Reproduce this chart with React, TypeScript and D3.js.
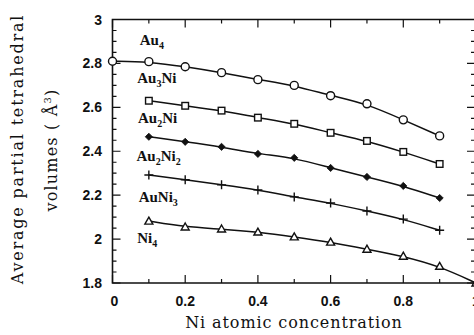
import React from 'react';
import * as d3 from 'd3';

// Ni atomic concentration at each computed point
const conc = [0, 0.1, 0.2, 0.3, 0.4, 0.5, 0.6, 0.7, 0.8, 0.9, 1.0];

// average partial tetrahedral volumes (Å^3), null = no point
const au4 = [2.81, 2.808, 2.785, 2.758, 2.726, 2.7, 2.653, 2.616, 2.543, 2.47, null];
const au3ni = [null, 2.63, 2.607, 2.585, 2.553, 2.525, 2.484, 2.447, 2.397, 2.342, null];
const au2ni = [null, 2.466, 2.443, 2.42, 2.388, 2.37, 2.324, 2.283, 2.242, 2.187, null];
const au2ni2 = [null, 2.292, 2.27, 2.247, 2.224, 2.192, 2.164, 2.128, 2.091, 2.04, null];
const ni4 = [null, 2.082, 2.055, 2.046, 2.032, 2.01, 1.986, 1.954, 1.922, 1.876, 1.8];

const xTicks = [0, 0.2, 0.4, 0.6, 0.8, 1];
const xTickLabels = ['0', '0.2', '0.4', '0.6', '0.8', '1'];
const yTicks = [1.8, 2, 2.2, 2.4, 2.6, 2.8, 3];
const yTickLabels = ['1.8', '2', '2.2', '2.4', '2.6', '2.8', '3'];

// label text: base, sub, base, sub...
const seriesNames = [
  ['Au', '4'],
  ['Au', '3', 'Ni'],
  ['Au', '2', 'Ni'],
  ['Au', '2', 'Ni', '2'],
  ['AuNi', '3'],
  ['Ni', '4'],
];
const seriesData = [au4, au3ni, au2ni, au2ni2, ni4];
const seriesMarkers = ['circle', 'square', 'diamond', 'plus', 'triangle'];
// label baseline position in data units
const labelX = [0.075, 0.068, 0.07, 0.066, 0.072, 0.068];
const labelY = [2.885, 2.71, 2.53, 2.355, 2.17, 1.98];

const W = 474;
const H = 335;
const INK = '#111';
const x = d3.scaleLinear().domain([0, 1]).range([112.5, 476]);
const y = d3.scaleLinear().domain([1.8, 3]).range([283, 19.5]);

const Marker = ({ type, cx, cy }: { type: string; cx: number; cy: number }) => {
  if (type === 'circle') return <circle cx={cx} cy={cy} r={4} fill="#fff" stroke={INK} strokeWidth={1.4} />;
  if (type === 'square')
    return <rect x={cx - 3.3} y={cy - 3.3} width={6.6} height={6.6} fill="#fff" stroke={INK} strokeWidth={1.4} />;
  if (type === 'diamond')
    return (
      <path
        d={`M${cx},${cy - 3.6}L${cx + 3.6},${cy}L${cx},${cy + 3.6}L${cx - 3.6},${cy}Z`}
        fill={INK}
        stroke={INK}
        strokeWidth={0.8}
      />
    );
  if (type === 'plus')
    return (
      <path d={`M${cx - 4.5},${cy}H${cx + 4.5}M${cx},${cy - 4.5}V${cy + 4.5}`} fill="none" stroke={INK} strokeWidth={1.4} />
    );
  return <path d={`M${cx},${cy - 4}L${cx + 4},${cy + 3}L${cx - 4},${cy + 3}Z`} fill="#fff" stroke={INK} strokeWidth={1.4} />;
};

const App = () => {
  // smooth fitted curves, like the original
  const line = d3
    .line<[number, number]>()
    .x((d) => x(d[0]))
    .y((d) => y(d[1]))
    .curve(d3.curveBasis);

  const minorX = d3.range(0, 1.0001, 0.1);
  const minorY = d3.range(1.8, 3.0001, 0.05);
  const x0 = x(0);
  const x1 = x(1);
  const yb = y(1.8);
  const yt = y(3);
  const isMajor = (v: number) => Math.abs(v * 5 - Math.round(v * 5)) < 1e-6;

  return (
    <svg width={W} height={H} style={{ display: 'block', position: 'absolute', left: 0, top: 0, background: '#fff' }}>
      {/* frame */}
      <path d={`M${x0},${yt}H${x1}V${yb}H${x0}Z`} fill="none" stroke={INK} strokeWidth={1.6} />
      {/* ticks */}
      {minorY.map((v, i) => {
        const len = isMajor(v) ? 8 : 4;
        return (
          <path
            key={'y' + i}
            d={`M${x0},${y(v)}h${len}M${x1},${y(v)}h${-len - 1}`}
            stroke={INK}
            strokeWidth={1.2}
            fill="none"
          />
        );
      })}
      {minorX.map((v, i) => {
        const len = isMajor(v) ? 8 : 4;
        return (
          <path
            key={'x' + i}
            d={`M${x(v)},${yb}v${-len}M${x(v)},${yt}v${len}`}
            stroke={INK}
            strokeWidth={1.2}
            fill="none"
          />
        );
      })}
      {/* tick labels */}
      <g fontFamily="'Liberation Sans', Arial, sans-serif" fontWeight="bold" fontSize={14} fill={INK}>
        {yTicks.map((v, i) => (
          <text key={'yl' + i} x={102} y={y(v)} dy="0.36em" textAnchor="end">
            {yTickLabels[i]}
          </text>
        ))}
        {xTicks.map((v, i) => (
          <text key={'xl' + i} x={x(v) + (i === 0 ? 2 : 0)} y={306} textAnchor="middle">
            {xTickLabels[i]}
          </text>
        ))}
      </g>
      {/* axis titles */}
      <g fontFamily="'DejaVu Serif', serif" fontSize={16} fill={INK}>
        <text x={294} y={328} textAnchor="middle" letterSpacing={0.9}>
          Ni atomic concentration
        </text>
        <text transform="translate(23,149) rotate(-90)" textAnchor="middle" letterSpacing={1.8}>
          Average partial tetrahedral
        </text>
        <text transform="translate(57,150) rotate(-90)" textAnchor="middle" letterSpacing={1.2}>
          volumes ( Å<tspan dy={-6} fontSize={10}>3</tspan>
          <tspan dy={6}>)</tspan>
        </text>
      </g>
      {/* curves */}
      {seriesData.map((s, k) => {
        const pts = conc
          .map((c, i) => [c, s[i]] as [number, number | null])
          .filter((p) => p[1] !== null) as [number, number][];
        return <path key={'c' + k} d={line(pts) || ''} fill="none" stroke={INK} strokeWidth={1.5} />;
      })}
      {/* markers */}
      {seriesData.map((s, k) =>
        conc.map((c, i) =>
          s[i] === null ? null : (
            <Marker key={`m${k}-${i}`} type={seriesMarkers[k]} cx={x(c)} cy={y(s[i] as number)} />
          )
        )
      )}
      {/* series labels */}
      <g fontFamily="'Liberation Serif', 'Times New Roman', serif" fontSize={15} fontWeight="bold" fill={INK}>
        {seriesNames.map((parts, k) => (
          <text key={'n' + k} x={x(labelX[k])} y={y(labelY[k])}>
            {parts.map((p, j) =>
              j % 2 === 1 ? (
                <tspan key={j} fontSize={10} dy={4}>
                  {p}
                </tspan>
              ) : (
                <tspan key={j} dy={j === 0 ? 0 : -4}>
                  {p}
                </tspan>
              )
            )}
          </text>
        ))}
      </g>
    </svg>
  );
};

export default App;
